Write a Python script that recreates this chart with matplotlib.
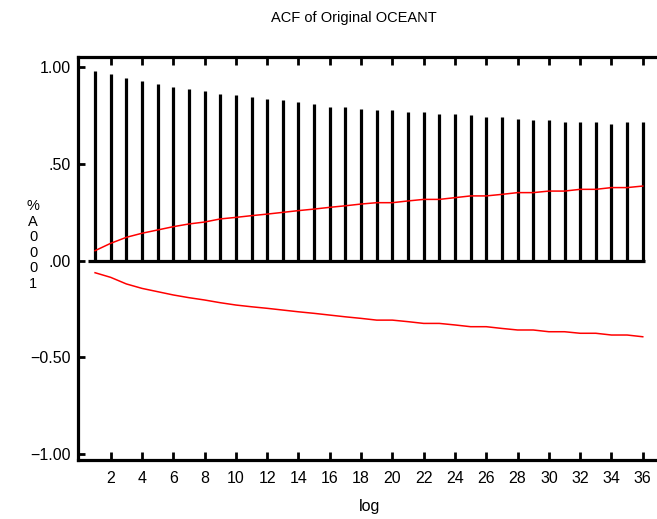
import matplotlib
matplotlib.use("Agg")
import matplotlib.pyplot as plt
from matplotlib import font_manager

lags = list(range(1, 37))
acf = [0.982, 0.964, 0.946, 0.929, 0.912, 0.896, 0.888, 0.879, 0.862, 0.855,
       0.846, 0.838, 0.829, 0.819, 0.810, 0.793, 0.793, 0.786, 0.778, 0.778,
       0.769, 0.769, 0.760, 0.760, 0.752, 0.743, 0.743, 0.734, 0.726, 0.726,
       0.719, 0.719, 0.719, 0.708, 0.719, 0.719]
upper = [0.052, 0.090, 0.121, 0.142, 0.159, 0.176, 0.190, 0.200, 0.216, 0.224,
         0.233, 0.241, 0.250, 0.259, 0.267, 0.276, 0.284, 0.293, 0.300, 0.300,
         0.309, 0.317, 0.317, 0.326, 0.335, 0.335, 0.343, 0.352, 0.352, 0.360,
         0.360, 0.369, 0.369, 0.378, 0.378, 0.386]
lower = [-0.062, -0.086, -0.120, -0.143, -0.160, -0.177, -0.191, -0.203, -0.217, -0.229,
         -0.238, -0.246, -0.255, -0.264, -0.272, -0.281, -0.290, -0.298, -0.307, -0.307,
         -0.315, -0.324, -0.324, -0.332, -0.341, -0.341, -0.350, -0.358, -0.358, -0.367,
         -0.367, -0.375, -0.375, -0.384, -0.384, -0.393]
xticks = list(range(2, 37, 2))
yticks = [1.0, 0.5, 0.0, -0.5, -1.0]
ytick_labels = ["1.00", ".50", ".00", "\u22120.50", "\u22121.00"]
title = "ACF of Original OCEANT"
ylabel = "%A0001"
xlabel = "log"

avail = {f.name for f in font_manager.fontManager.ttflist}
if "Liberation Sans Narrow" in avail:
    fam = ["Liberation Sans Narrow", "DejaVu Sans"]
elif "Liberation Sans" in avail:
    fam = ["Liberation Sans", "DejaVu Sans"]
else:
    fam = ["DejaVu Sans"]
plt.rcParams["font.family"] = fam

fig = plt.figure(figsize=(6.57, 5.19), dpi=100)
ax = fig.add_axes([78/657, 59/519, (657-78)/657, (460-57)/519])

ax.vlines(lags, 0, acf, colors="black", linewidth=2.3)
ax.hlines(0, 0.55, 36.15, colors="black", linewidth=2.3)
ax.plot(lags, upper, color="#ff0000", linewidth=1.1)
ax.plot(lags, lower, color="#ff0000", linewidth=1.1)

ax.set_xlim(-0.09, 36.91)
ax.set_ylim(-1.03, 1.053)

for s in ["top", "bottom", "left"]:
    ax.spines[s].set_linewidth(2.3)
ax.spines["right"].set_visible(False)

ax.set_xticks(xticks)
ax.set_xticklabels([str(t) for t in xticks], fontsize=11.5)
ax.set_yticks(yticks)
ax.set_yticklabels(ytick_labels, fontsize=11.5)
ax.tick_params(axis="x", direction="in", length=6, width=2, top=True, pad=8)
ax.tick_params(axis="y", direction="in", length=5, width=2, right=False, pad=5)

fig.text(354/657, 1 - 18/519, title, ha="center", va="center", fontsize=10.5)
fig.text(370/657, 1 - 507/519, xlabel, ha="center", va="center", fontsize=11.5)
fig.text(33/657, 1 - 245/519, "\n".join(ylabel), ha="center", va="center",
         fontsize=10.5, linespacing=1.15)

fig.savefig("out.png", dpi=100)
